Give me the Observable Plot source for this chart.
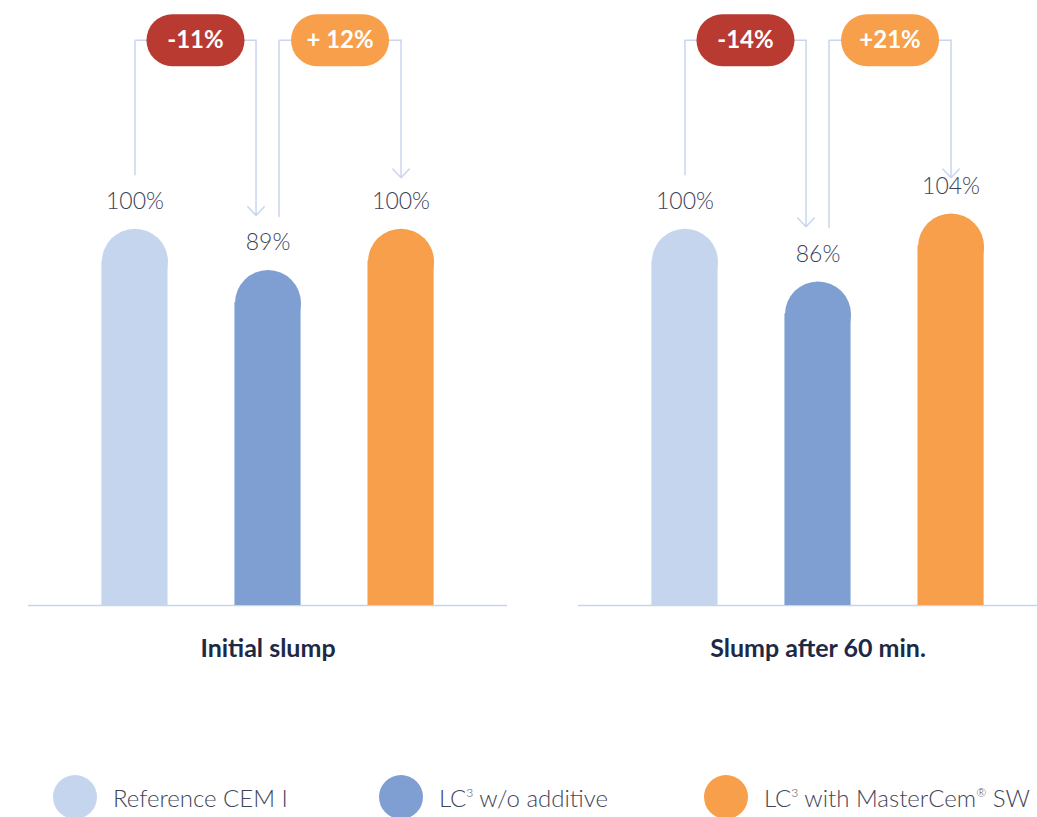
<!DOCTYPE html>
<html>
<head>
<meta charset="utf-8">
<script src="https://cdn.jsdelivr.net/npm/d3@7"></script>
<script src="https://cdn.jsdelivr.net/npm/@observablehq/plot@0.6"></script>
<style>
  html, body { margin: 0; padding: 0; background: #fff; }
  body { width: 1037px; height: 817px; overflow: hidden; font-family: Lato, "Open Sans", sans-serif; }
  #legend { position: relative; height: 44px; margin-top: 75px; }
  .item { position: absolute; top: 0; display: flex; align-items: center; height: 44px; }
  .sw { width: 44px; height: 44px; border-radius: 50%; display: inline-block; }
  .lab { margin-left: 16px; font-size: 24px; font-weight: 300; color: #3f4559; white-space: nowrap; }
  .lab sup { font-size: 12px; vertical-align: 10px; line-height: 0; }
</style>
</head>
<body>
<div id="chart"></div>
<div id="legend"></div>
<script>
const categories = ["Reference CEM I", "LC³ w/o additive", "LC³ with MasterCem® SW"];
const categoryHtml = ["Reference CEM I", "LC<sup>3</sup> w/o additive", "LC<sup>3</sup> with MasterCem<sup>®</sup> SW"];
const conditions = ["Initial slump", "Slump after 60 min."];
const initialSlump = [100, 89, 100];
const slumpAfter60 = [100, 86, 104];
const initialChanges = ["-11%", "+ 12%"];
const after60Changes = ["-14%", "+21%"];

const colors = ["#c6d5ee", "#7f9fd2", "#f79f4a"];
const lineColor = "#c9d6ee";
const values = [initialSlump, slumpAfter60];
const changes = [initialChanges, after60Changes];

const bars = conditions.flatMap((c, j) =>
  categories.map((k, i) => ({condition: c, category: k, i, value: values[j][i]})));

const topLevel = 150;
const brackets = conditions.flatMap((c, j) => {
  const v = values[j];
  return [
    {condition: c, id: c + "dec", kind: "dec", label: changes[j][0], xs: 0, ys: v[0] + 14.3, xe: 1 - 0.09, ye: v[1] + 14.5},
    {condition: c, id: c + "inc", kind: "inc", label: changes[j][1], xs: 1 + 0.083, ys: v[1] + 14.2, xe: 2, ye: v[0] + 13.5}
  ];
});
brackets.forEach(b => b.mid = (b.xs + b.xe) / 2);
const linePts = brackets.flatMap(b => [
  {condition: b.condition, id: b.id, x: b.xs, y: b.ys},
  {condition: b.condition, id: b.id, x: b.xs, y: topLevel},
  {condition: b.condition, id: b.id, x: b.xe, y: topLevel}
]);

const chart = Plot.plot({
  width: 1037,
  height: 700,
  marginTop: 2,
  marginBottom: 95,
  marginLeft: 28,
  marginRight: -20,
  style: {fontFamily: "Lato, 'Open Sans', sans-serif", background: "white"},
  fx: {domain: conditions, paddingInner: 0.13, paddingOuter: 0},
  x: {domain: [-0.8, 2.8], axis: null},
  y: {domain: [0, 160], axis: null},
  color: {domain: categories, range: colors},
  marks: [
    Plot.ruleY([0], {stroke: "#c6d4ec", strokeWidth: 1.5}),
    Plot.rect(bars, {fx: "condition", x1: d => d.i - 0.2485, x2: d => d.i + 0.2485, y1: () => 0, y2: "value", fill: "category", insetTop: 32.5}),
    Plot.dot(bars, {fx: "condition", x: "i", y: "value", r: 33, dy: 33, fill: "category"}),
    Plot.text(bars, {fx: "condition", x: "i", y: "value", dy: -27, text: d => d.value + "%", fontSize: 23, fontWeight: 300, fill: "#3b4258"}),
    Plot.line(linePts, {fx: "condition", x: "x", y: "y", z: "id", stroke: lineColor, strokeWidth: 1.5}),
    Plot.arrow(brackets, {fx: "condition", x1: "xe", x2: "xe", y1: () => topLevel, y2: "ye", stroke: lineColor, strokeWidth: 1.5, headLength: 12, headAngle: 86}),
    Plot.link(brackets.filter(b => b.kind === "dec"), {fx: "condition", x1: d => d.mid - 0.173, x2: d => d.mid + 0.173, y1: () => topLevel, y2: () => topLevel, stroke: "#b83a30", strokeWidth: 52, strokeLinecap: "round"}),
    Plot.link(brackets.filter(b => b.kind === "inc"), {fx: "condition", x1: d => d.mid - 0.173, x2: d => d.mid + 0.173, y1: () => topLevel, y2: () => topLevel, stroke: "#f79f4a", strokeWidth: 52, strokeLinecap: "round"}),
    Plot.text(brackets, {fx: "condition", x: "mid", y: () => topLevel, text: "label", fill: "white", fontSize: 24, fontWeight: 700}),
    Plot.axisFx({anchor: "bottom", tickSize: 0, tickPadding: 34, fontSize: 25, fontWeight: 700, fill: "#1e2945", label: null})
  ]
});
document.getElementById("chart").appendChild(chart);

const legend = document.getElementById("legend");
const lefts = [53, 379, 704];
categoryHtml.forEach((h, i) => {
  const it = document.createElement("div");
  it.className = "item";
  it.style.left = lefts[i] + "px";
  it.innerHTML = `<span class="sw" style="background:${colors[i]}"></span><span class="lab">${h}</span>`;
  legend.appendChild(it);
});
</script>
</body>
</html>
